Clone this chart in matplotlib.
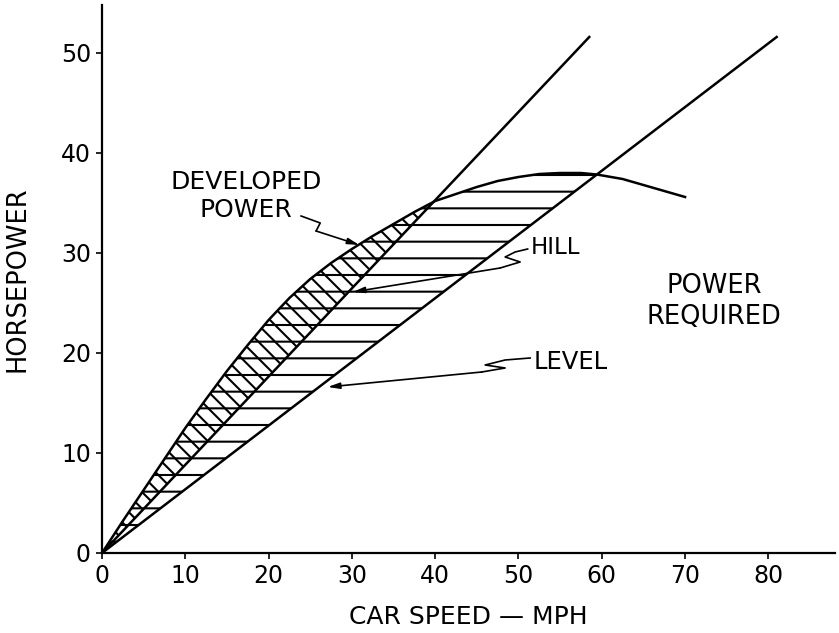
import matplotlib
matplotlib.use('Agg')
import matplotlib.pyplot as plt

# curva de potência desenvolvida
dev_speed = [0, 2.5, 5, 7.5, 10, 12.5, 15, 17.5, 20, 22.5, 25, 27.5, 30, 32.5, 35, 37.5, 40,
             42.5, 45, 47.5, 50, 52.5, 55, 57.5, 59.4, 62.5, 65, 67.5, 70]
dev_hp = [0, 3.2, 6.3, 9.4, 12.5, 15.4, 18.2, 20.8, 23.3, 25.5, 27.4, 29.0, 30.4, 31.7, 32.9,
          34.1, 35.2, 35.9, 36.6, 37.2, 37.6, 37.9, 38.0, 38.0, 37.85, 37.4, 36.8, 36.2, 35.6]

# potência requerida: subida e plano (retas)
hill_speed = [0, 58.5]
hill_hp = [0, 51.6]
level_speed = [0, 81]
level_hp = [0, 51.6]

x_ticks = [0, 10, 20, 30, 40, 50, 60, 70, 80]
y_ticks = [0, 10, 20, 30, 40, 50]

plt.rcParams['font.family'] = ['DejaVu Sans']
plt.rcParams['hatch.linewidth'] = 1.5
plt.rcParams['hatch.color'] = 'black'


def leader(ax, pts, target):
    # traço em zigue-zague seguido de seta
    xs = [p[0] for p in pts]
    ys = [p[1] for p in pts]
    ax.plot(xs, ys, color='black', lw=1.2, solid_joinstyle='round')
    ax.annotate('', xy=target, xytext=pts[-1],
                arrowprops=dict(arrowstyle='-|>,head_length=0.7,head_width=0.18',
                                color='black', lw=1.2, shrinkA=0, shrinkB=0))


def main():
    fig, ax = plt.subplots(figsize=(8.39, 6.33), dpi=100)
    fig.subplots_adjust(left=0.1216, right=0.9952, bottom=0.1264, top=0.9921)

    i_hill = dev_speed.index(40)
    i_level = dev_speed.index(59.4)

    # áreas hachuradas: reserva de potência
    ax.fill(dev_speed[:i_level + 1], dev_hp[:i_level + 1], facecolor='none',
            edgecolor='black', hatch='-', linewidth=0)
    ax.fill(dev_speed[:i_hill + 1], dev_hp[:i_hill + 1], facecolor='none',
            edgecolor='black', hatch='\\\\', linewidth=0)

    ax.plot(dev_speed, dev_hp, color='black', lw=1.8)
    ax.plot(hill_speed, hill_hp, color='black', lw=1.8)
    ax.plot(level_speed, level_hp, color='black', lw=1.8)

    ax.set_xlim(0, 88)
    ax.set_ylim(0, 54.8)
    ax.set_xticks(x_ticks)
    ax.set_yticks(y_ticks)
    ax.tick_params(axis='both', direction='out', length=4, width=1.2,
                   labelsize=17, pad=4)
    for s in ['top', 'right']:
        ax.spines[s].set_visible(False)
    for s in ['left', 'bottom']:
        ax.spines[s].set_linewidth(1.6)

    ax.set_xlabel('CAR SPEED — MPH', fontsize=18, labelpad=12)
    ax.set_ylabel('HORSEPOWER', fontsize=18.5, labelpad=22)

    ax.text(17.3, 35.7, 'DEVELOPED\nPOWER', fontsize=18, ha='center', va='center',
            linespacing=1.25)
    ax.text(51.5, 30.5, 'HILL', fontsize=16.5, ha='left', va='center')
    ax.text(51.8, 19.1, 'LEVEL', fontsize=17.5, ha='left', va='center')
    ax.text(73.5, 25.1, 'POWER\nREQUIRED', fontsize=18.5, ha='center', va='center',
            linespacing=1.25)

    leader(ax, [(23.9, 33.7), (26.2, 33.0), (25.7, 32.2)], (30.9, 30.8))
    leader(ax, [(51.1, 30.4), (49.6, 30.1), (48.4, 29.6), (50.2, 29.1), (47.8, 28.5)],
           (30.1, 26.1))
    leader(ax, [(51.4, 19.5), (48.4, 19.3), (46.0, 18.8), (48.4, 18.5), (45.6, 18.1)],
           (27.1, 16.6))

    fig.savefig('out.png', dpi=100)
    plt.close(fig)


if __name__ == '__main__':
    main()
